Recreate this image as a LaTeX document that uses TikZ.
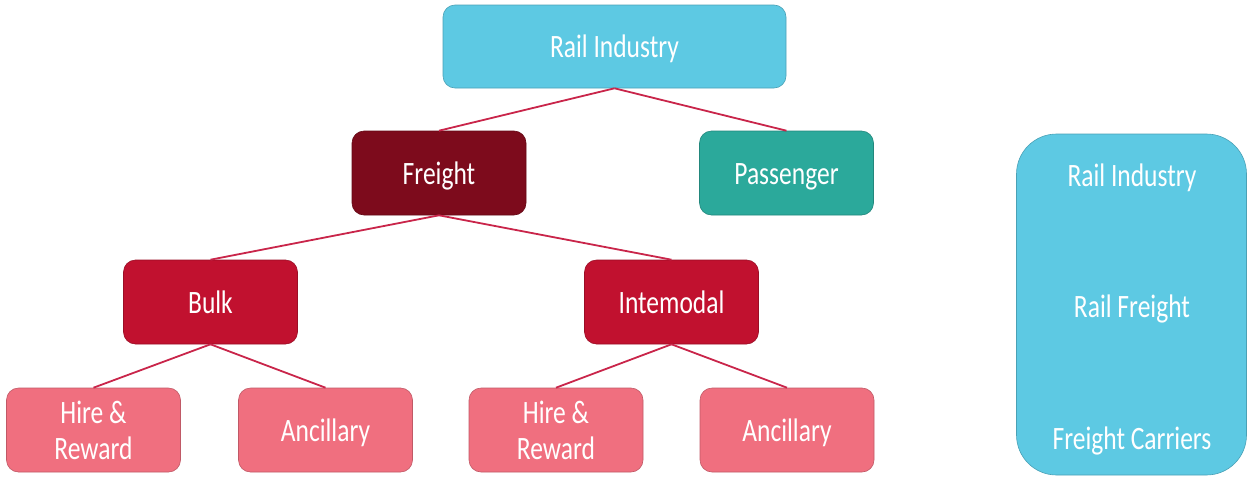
\documentclass[tikz,border=0pt]{standalone}
\usepackage{fontspec}
\usepackage{graphicx}
\setmainfont{Carlito}
\definecolor{skyblue}{HTML}{5DC9E3}
\definecolor{darkred}{HTML}{7D0B1C}
\definecolor{teal}{HTML}{2BA99B}
\definecolor{crimson}{HTML}{C1112F}
\definecolor{pinkish}{HTML}{F06F7F}
\definecolor{linkred}{HTML}{C9254A}
% labels are set a little taller than the plain font, and sit a bit low
\newcommand{\tall}[1]{\raisebox{-2pt}[\dimexpr\height+2pt\relax][\dimexpr\depth-2pt\relax]{%
	\scalebox{1}[1.28]{\begin{tabular}{@{}c@{}}#1\end{tabular}}}}

\begin{document}
\begin{tikzpicture}[x=1pt,y=-1pt,
	box/.style={rectangle,rounded corners=12pt,minimum width=174pt,minimum height=84pt,
		text=white,font=\fontsize{25.5}{28.5}\selectfont,align=center,draw=#1!80!black,line width=0.6pt,fill=#1},
	label/.style={text=white,font=\fontsize{25.5}{28.5}\selectfont},
	link/.style={draw=linkred,line width=1.8pt}]
	\useasboundingbox (0,0) rectangle (1248,477);

	% top of the tree
	\node[box=skyblue,minimum width=343pt,minimum height=83pt] (rail) at (614.5,46.5) {\tall{Rail Industry}};
	\node[box=darkred] (freight) at (439,173) {\tall{Freight}};
	\node[box=teal] (passenger) at (786.5,173) {\tall{Passenger}};

	% freight branches
	\node[box=crimson] (bulk) at (210.5,302) {\tall{Bulk}};
	\node[box=crimson] (intermodal) at (671.5,302) {\tall{Intemodal}};

	% leaves
	\node[box=pinkish] (hire1) at (93.5,430) {\tall{Hire \&\\Reward}};
	\node[box=pinkish] (anc1) at (325.5,430) {\tall{Ancillary}};
	\node[box=pinkish] (hire2) at (556,430) {\tall{Hire \&\\Reward}};
	\node[box=pinkish] (anc2) at (787,430) {\tall{Ancillary}};

	% connectors
	\draw[link] (rail.south) -- (freight.north);
	\draw[link] (rail.south) -- (passenger.north);
	\draw[link] (freight.south) -- (bulk.north);
	\draw[link] (freight.south) -- (intermodal.north);
	\draw[link] (bulk.south) -- (hire1.north);
	\draw[link] (bulk.south) -- (anc1.north);
	\draw[link] (intermodal.south) -- (hire2.north);
	\draw[link] (intermodal.south) -- (anc2.north);

	% side panel
	\node[box=skyblue,rounded corners=40pt,minimum width=230pt,minimum height=341pt] (panel) at (1131.5,304.5) {};
	\node[label] (lvl1) at (1132,175) {\tall{Rail Industry}};
	\node[label] (lvl2) at (1132,306) {\tall{Rail Freight}};
	\node[label] (lvl3) at (1132,438) {\tall{Freight Carriers}};
\end{tikzpicture}
\end{document}
